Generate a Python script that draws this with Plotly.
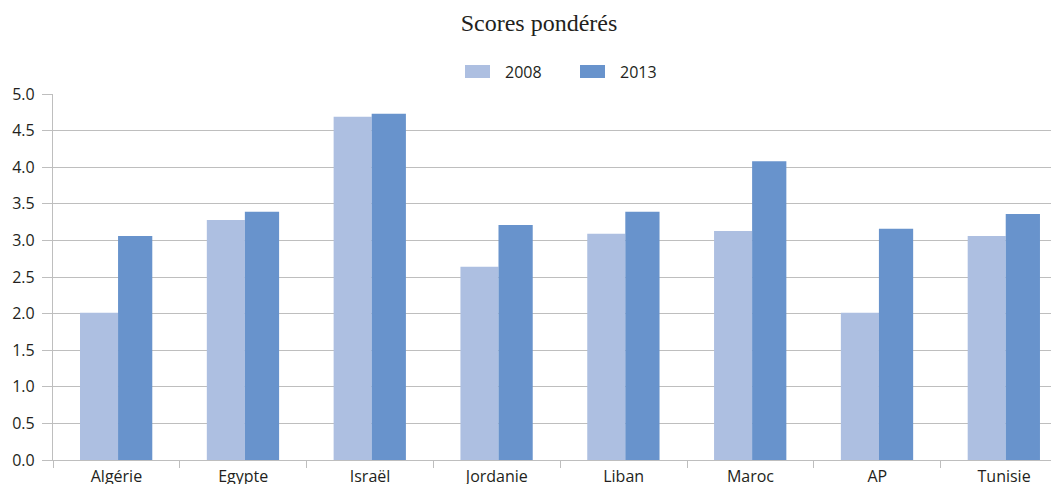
import plotly.graph_objects as go

# Weighted scores per country, 2008 vs 2013
categories = ["Algérie", "Egypte", "Israël", "Jordanie", "Liban", "Maroc", "AP", "Tunisie"]
scores_2008 = [2.01, 3.28, 4.69, 2.64, 3.09, 3.13, 2.01, 3.06]
scores_2013 = [3.06, 3.39, 4.73, 3.21, 3.39, 4.08, 3.16, 3.36]
y_ticks = [0.0, 0.5, 1.0, 1.5, 2.0, 2.5, 3.0, 3.5, 4.0, 4.5, 5.0]
series_names = ["2008", "2013"]

COL_2008 = "#ADBFE1"
COL_2013 = "#6893CC"
GRID = "#BEBEBE"
TXT = "#231F20"
FONT = "Open Sans"

fig = go.Figure()
fig.add_trace(go.Bar(
    x=categories, y=scores_2008, name=series_names[0],
    marker=dict(color=COL_2008, line=dict(width=0)),
    width=0.30, offset=-0.287, showlegend=False,
))
fig.add_trace(go.Bar(
    x=categories, y=scores_2013, name=series_names[1],
    marker=dict(color=COL_2013, line=dict(width=0)),
    width=0.27, offset=0.013, showlegend=False,
))

# Legend drawn as swatches + labels above the plot area (container pixels)
W, H = 1051, 484
legend_items = [(465, COL_2008, series_names[0]), (580, COL_2013, series_names[1])]
shapes, annotations = [], []
for x0, col, label in legend_items:
    shapes.append(dict(
        type="rect", xref="paper", yref="paper",
        x0=(x0 - 53) / 998, x1=(x0 + 25 - 53) / 998,
        y0=(460 - 78) / 366, y1=(460 - 65) / 366,
        fillcolor=col, line=dict(width=0),
    ))
    annotations.append(dict(
        text=label, xref="paper", yref="paper",
        x=(x0 + 38 - 53) / 998, y=(460 - 71.5) / 366,
        xanchor="left", yanchor="middle", showarrow=False,
        font=dict(family=FONT, size=16, color=TXT),
    ))

fig.update_layout(
    width=W, height=H,
    margin=dict(l=53, r=0, t=94, b=24),
    paper_bgcolor="white", plot_bgcolor="white",
    barmode="overlay",
    font=dict(family=FONT, size=16, color=TXT),
    title=dict(
        text="Scores pondérés",
        font=dict(family="Liberation Serif", size=24, color=TXT),
        x=539 / W, xanchor="center", y=1 - 23 / H, yanchor="middle",
    ),
    shapes=shapes,
    annotations=annotations,
    xaxis=dict(
        range=[-0.5, 7.37],
        showgrid=False,
        showline=True, linecolor=GRID, linewidth=1.3,
        ticks="outside", tickson="boundaries", ticklen=7, tickcolor=GRID, tickwidth=1.3,
        tickfont=dict(family=FONT, size=16, color=TXT),
        ticklabelstandoff=2,
        automargin=False,
    ),
    yaxis=dict(
        range=[0, 5.0],
        tickvals=y_ticks,
        tickformat=".1f",
        showgrid=True, gridcolor=GRID, gridwidth=1.3,
        showline=True, linecolor=GRID, linewidth=1.3,
        ticks="outside", ticklen=10, tickcolor=GRID, tickwidth=1.3,
        tickfont=dict(family=FONT, size=16, color=TXT),
        ticklabelstandoff=4,
        zeroline=False,
        automargin=False,
    ),
)

fig.write_html("out.html")
